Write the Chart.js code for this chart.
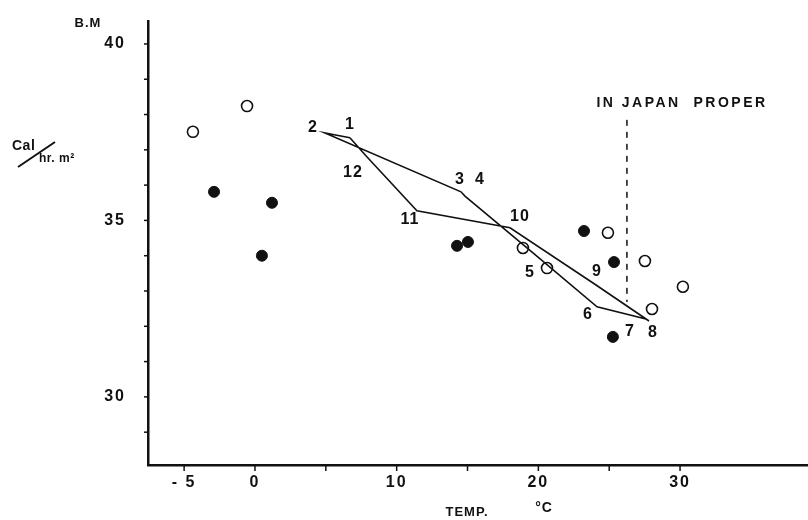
<!DOCTYPE html>
<html>
<head>
<meta charset="utf-8">
<script src="https://cdn.jsdelivr.net/npm/chart.js@4.4.1/dist/chart.umd.min.js"></script>
<style>
  html, body { margin: 0; padding: 0; background: #fff; }
  #wrap { width: 808px; height: 520px; }
</style>
</head>
<body>
<div id="wrap"><canvas id="bm-chart" width="808" height="520"></canvas></div>
<script>
// monthly loop (1..12)
const months = ['1', '2', '3', '4', '5', '6', '7', '8', '9', '10', '11', '12'];
const monthTemp = [6.7, 4.94, 14.54, 14.82, 19.62, 24.14, 27.59, 27.81, 24.07, 18.0, 11.43, 7.83];
const monthBM = [37.34, 37.48, 35.81, 35.69, 34.08, 32.55, 32.21, 32.15, 33.17, 34.79, 35.27, 36.83];

// open circles
const openTemp = [-4.38, -0.56, 18.91, 20.61, 24.91, 27.52, 30.2, 28.02];
const openBM = [37.51, 38.24, 34.22, 33.65, 34.65, 33.85, 33.12, 32.49];

// filled circles
const filledTemp = [-2.89, 1.2, 0.49, 14.26, 15.03, 23.22, 25.34, 25.26];
const filledBM = [35.81, 35.5, 34.0, 34.28, 34.39, 34.7, 33.82, 31.7];

// "in Japan proper" boundary
const japanTemp = [26.25, 26.25];
const japanBM = [37.85, 32.69];

const xTickLabels = [-5, 0, 10, 20, 30];
const xTickMarks = [-5, 0, 5, 10, 15, 20, 25, 30];
const yTickLabels = [30, 35, 40];
const yTickMarks = [29, 30, 31, 32, 33, 34, 35, 36, 37, 38, 39, 40];

// label offsets in px from each month vertex
const labelOffsets = [[0, -13], [-12, -5], [-1, -12], [15, -16], [-3, 20], [-9, 8],
                      [-16, 13], [4, 12], [1, -13], [10, -11], [-7, 9], [-13, 17]];

function pts(xs, ys) {
    return xs.map((x, i) => ({ x: x, y: ys[i] }));
}

const loop = pts(monthTemp, monthBM);
loop.push(loop[0]);

const INK = '#111';
const FONT = '"Liberation Sans", Arial, sans-serif';

const drawExtras = {
    id: 'drawExtras',
    afterDraw(chart) {
        const ctx = chart.ctx;
        const xs = chart.scales.x;
        const ys = chart.scales.y;
        const area = chart.chartArea;
        ctx.save();
        ctx.strokeStyle = INK;
        ctx.fillStyle = INK;

        // axis tick marks
        ctx.lineWidth = 1.5;
        xTickMarks.forEach(v => {
            const px = xs.getPixelForValue(v);
            ctx.beginPath();
            ctx.moveTo(px, area.bottom);
            ctx.lineTo(px, area.bottom + 6);
            ctx.stroke();
        });
        yTickMarks.forEach(v => {
            const py = ys.getPixelForValue(v);
            ctx.beginPath();
            ctx.moveTo(area.left, py);
            ctx.lineTo(area.left - 4, py);
            ctx.stroke();
        });

        // tick labels
        ctx.font = 'bold 16px ' + FONT;
        ctx.letterSpacing = '2px';
        ctx.textBaseline = 'middle';
        ctx.textAlign = 'right';
        yTickLabels.forEach(v => {
            ctx.fillText(String(v), area.left - 22, ys.getPixelForValue(v));
        });
        ctx.textAlign = 'center';
        xTickLabels.forEach(v => {
            const t = v < 0 ? '- ' + Math.abs(v) : String(v);
            ctx.fillText(t, xs.getPixelForValue(v), area.bottom + 18);
        });

        // axis titles
        ctx.font = 'bold 13px ' + FONT;
        ctx.letterSpacing = '1px';
        ctx.fillText('B.M', 88, 23);
        ctx.fillText('TEMP.', 467, 512);
        ctx.font = 'bold 14px ' + FONT;
        ctx.fillText('°C', 544, 508);

        ctx.font = 'bold 14px ' + FONT;
        ctx.letterSpacing = '0.5px';
        ctx.textAlign = 'left';
        ctx.fillText('Cal', 12, 146);
        ctx.font = 'bold 12px ' + FONT;
        ctx.fillText('hr. m²', 39, 159);
        ctx.lineWidth = 2;
        ctx.beginPath();
        ctx.moveTo(18, 167);
        ctx.lineTo(55, 142);
        ctx.stroke();

        ctx.font = 'bold 14px ' + FONT;
        ctx.letterSpacing = '2.5px';
        ctx.textAlign = 'center';
        ctx.fillText('IN JAPAN  PROPER', 682, 103);

        // month numbers
        ctx.font = 'bold 16px ' + FONT;
        ctx.letterSpacing = '1px';
        months.forEach((m, i) => {
            const px = xs.getPixelForValue(monthTemp[i]) + labelOffsets[i][0];
            const py = ys.getPixelForValue(monthBM[i]) + labelOffsets[i][1];
            ctx.fillText(m, px, py);
        });
        ctx.restore();
    }
};

new Chart(document.getElementById('bm-chart'), {
    type: 'scatter',
    data: {
        datasets: [
            {
                label: 'months',
                data: loop,
                showLine: true,
                borderColor: INK,
                borderWidth: 1.6,
                pointRadius: 0,
                tension: 0
            },
            {
                label: 'Japan proper',
                data: pts(japanTemp, japanBM),
                showLine: true,
                borderColor: INK,
                borderWidth: 1.5,
                borderDash: [6, 6],
                pointRadius: 0
            },
            {
                label: 'open',
                data: pts(openTemp, openBM),
                pointRadius: 5.5,
                pointBackgroundColor: '#fff',
                pointBorderColor: INK,
                pointBorderWidth: 1.6
            },
            {
                label: 'filled',
                data: pts(filledTemp, filledBM),
                pointRadius: 5.5,
                pointBackgroundColor: INK,
                pointBorderColor: INK,
                pointBorderWidth: 1
            }
        ]
    },
    options: {
        responsive: false,
        animation: false,
        events: [],
        layout: {
            autoPadding: false,
            padding: { left: 140, right: 0, top: 21, bottom: 47 }
        },
        plugins: {
            legend: { display: false },
            tooltip: { enabled: false }
        },
        scales: {
            x: {
                type: 'linear',
                min: -7.55,
                max: 39.03,
                grid: { display: false },
                ticks: { display: false },
                border: { display: true, color: INK, width: 2.5 }
            },
            y: {
                type: 'linear',
                min: 28.07,
                max: 40.65,
                grid: { display: false },
                ticks: { display: false },
                border: { display: true, color: INK, width: 2.5 }
            }
        }
    },
    plugins: [drawExtras]
});
</script>
</body>
</html>
